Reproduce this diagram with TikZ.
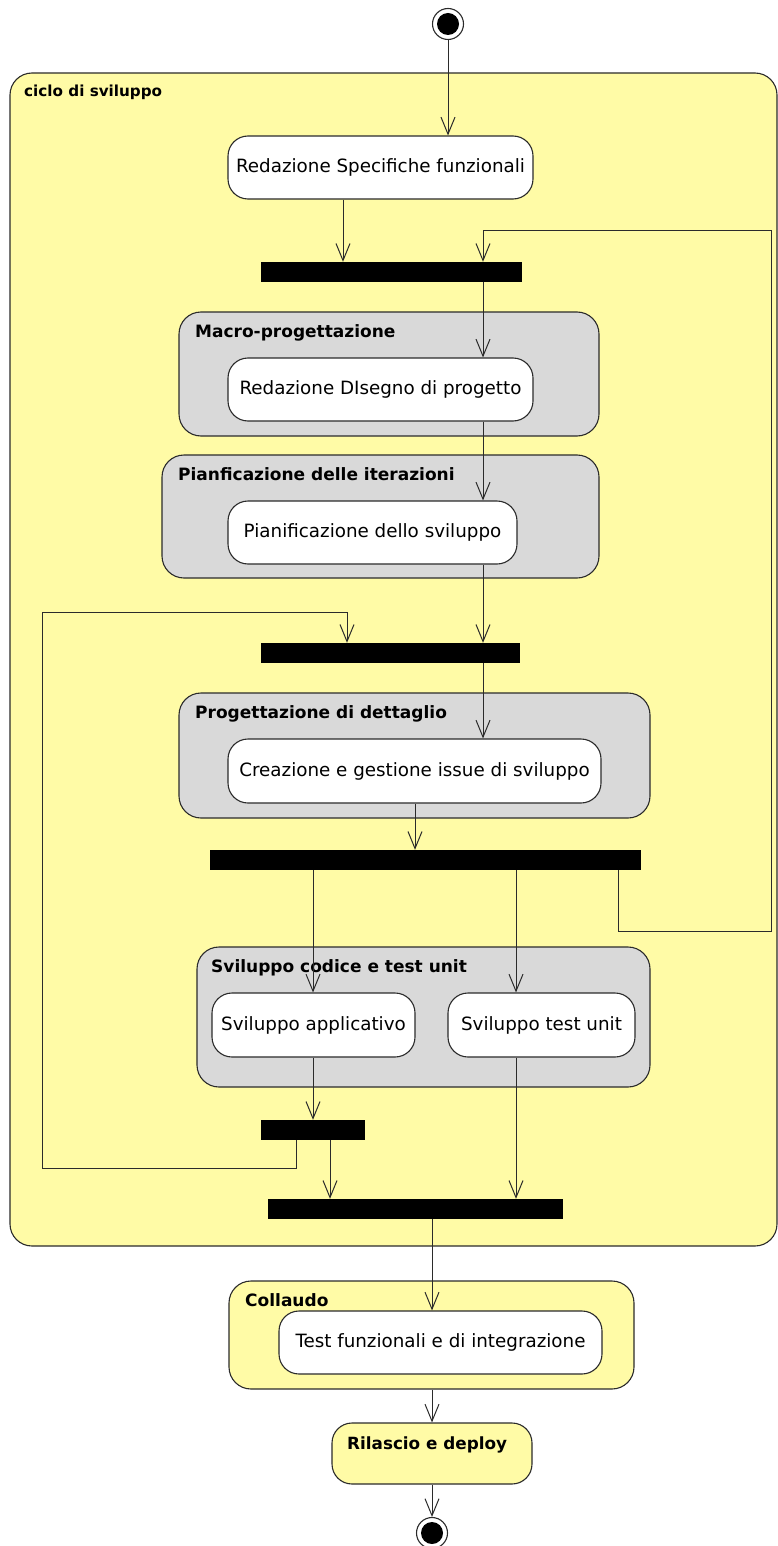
\documentclass[tikz,border=0pt]{standalone}
\usepackage{fontspec}
\setmainfont{DejaVu Sans}
\usetikzlibrary{positioning,arrows.meta}
\definecolor{cicloyellow}{HTML}{FFFBA6}
\definecolor{fasegray}{HTML}{D9D9D9}
\definecolor{bordo}{HTML}{2B2B2B}
\tikzset{
  azione/.style={draw=bordo,fill=white,line width=1.1pt,rounded corners=20pt,inner sep=0pt,font=\fontsize{18.3}{22}\selectfont},
  fase/.style={draw=bordo,fill=fasegray,line width=1.1pt,rounded corners=22pt,inner sep=0pt},
  titolo/.style={anchor=base west,inner sep=0pt,font=\bfseries\fontsize{17}{20}\selectfont},
  barra/.style={fill=black,inner sep=0pt},
  nodofine/.style={circle,draw=bordo,fill=white,line width=1.1pt,minimum size=31pt,inner sep=0pt},
  flusso/.style={draw=bordo,line width=1pt,-{Straight Barb[length=17pt,width=14pt]}}
}
\begin{document}
\begin{tikzpicture}[x=1pt,y=-1pt]
\useasboundingbox (0,0) rectangle (777,1546);
% ciclo di sviluppo
\node[fase,fill=cicloyellow,minimum width=767pt,minimum height=1173pt] (ciclo) at (393.5,659.5) {};
\node[titolo,font=\bfseries\fontsize{15.2}{18}\selectfont] (tciclo) at (24,97) {ciclo di sviluppo};
% inizio
\node[nodofine] (inizio) at (448,24) {};
\fill (inizio) circle[radius=11pt];
\node[azione,minimum width=305pt,minimum height=63pt] (specifiche) at (380.5,167.5) {Redazione Specifiche funzionali};
\node[barra,minimum width=261pt,minimum height=20pt] (bar1) at (391.5,272) {};
% macro-progettazione
\node[fase,minimum width=420pt,minimum height=124pt] (macro) at (389,374) {};
\node[titolo] (tmacro) at (195,337) {Macro-progettazione};
\node[azione,minimum width=305pt,minimum height=63pt] (disegno) at (380.5,389.5) {Redazione DIsegno di progetto};
% pianificazione
\node[fase,minimum width=437pt,minimum height=123pt] (pianif) at (380.5,516.5) {};
\node[titolo] (tpianif) at (178,480) {Pianficazione delle iterazioni};
\node[azione,minimum width=289pt,minimum height=63pt] (sviluppo) at (372.5,532.5) {Pianificazione dello sviluppo};
\node[barra,minimum width=259pt,minimum height=20pt] (bar2) at (390.5,653) {};
% progettazione di dettaglio
\node[fase,minimum width=471pt,minimum height=125pt] (dettaglio) at (414.5,755.5) {};
\node[titolo] (tdettaglio) at (195,718) {Progettazione di dettaglio};
\node[azione,minimum width=373pt,minimum height=64pt] (issue) at (414.5,771) {Creazione e gestione issue di sviluppo};
\node[barra,minimum width=431pt,minimum height=20pt] (bar3) at (425.5,860) {};
% sviluppo codice
\node[fase,minimum width=453pt,minimum height=140pt] (codice) at (423.5,1017) {};
\node[titolo] (tcodice) at (211,972) {Sviluppo codice e test unit};
\node[azione,minimum width=203pt,minimum height=64pt] (applicativo) at (313.5,1025) {Sviluppo applicativo};
\node[azione,minimum width=187pt,minimum height=64pt] (testunit) at (541.5,1025) {Sviluppo test unit};
\node[barra,minimum width=104pt,minimum height=20pt] (bar4) at (313,1130) {};
\node[barra,minimum width=295pt,minimum height=20pt] (bar5) at (415.5,1209) {};
% collaudo e rilascio
\node[fase,fill=cicloyellow,minimum width=405pt,minimum height=108pt] (collaudo) at (431.5,1335) {};
\node[titolo] (tcollaudo) at (245,1306) {Collaudo};
\node[azione,minimum width=323pt,minimum height=63pt] (funzionali) at (440.5,1342.5) {Test funzionali e di integrazione};
\node[fase,fill=cicloyellow,rounded corners=20pt,minimum width=200pt,minimum height=61pt] (rilascio) at (432,1453.5) {};
\node[titolo,font=\bfseries\fontsize{16.8}{20}\selectfont] (trilascio) at (347,1449) {Rilascio e deploy};
% fine
\node[nodofine] (fine) at (432,1533) {};
\fill (fine) circle[radius=11pt];
% frecce
\draw[flusso] (inizio.south) -- (specifiche.north -| inizio.south);
\draw[flusso] (specifiche.south -| 343,0) -- (bar1.north -| 343,0);
\draw[flusso] (bar3.south -| 618,0) |- (771,931) -- (771,231) -| (bar1.north -| 483,0);
\draw[flusso] (bar1.south -| 483,0) -- (disegno.north -| 483,0);
\draw[flusso] (disegno.south -| 483,0) -- (sviluppo.north -| 483,0);
\draw[flusso] (sviluppo.south -| 483,0) -- (bar2.north -| 483,0);
\draw[flusso] (bar4.south -| 296,0) |- (42,1168) -- (42,612) -| (bar2.north -| 347,0);
\draw[flusso] (bar2.south -| 483,0) -- (issue.north -| 483,0);
\draw[flusso] (issue.south -| 415,0) -- (bar3.north -| 415,0);
\draw[flusso] (bar3.south -| 313,0) -- (applicativo.north -| 313,0);
\draw[flusso] (bar3.south -| 516,0) -- (testunit.north -| 516,0);
\draw[flusso] (applicativo.south -| 313,0) -- (bar4.north -| 313,0);
\draw[flusso] (bar4.south -| 330,0) -- (bar5.north -| 330,0);
\draw[flusso] (testunit.south -| 516,0) -- (bar5.north -| 516,0);
\draw[flusso] (bar5.south -| 432,0) -- (funzionali.north -| 432,0);
\draw[flusso] (collaudo.south -| 432,0) -- (rilascio.north -| 432,0);
\draw[flusso] (rilascio.south -| 432,0) -- (fine.north);
\end{tikzpicture}
\end{document}
